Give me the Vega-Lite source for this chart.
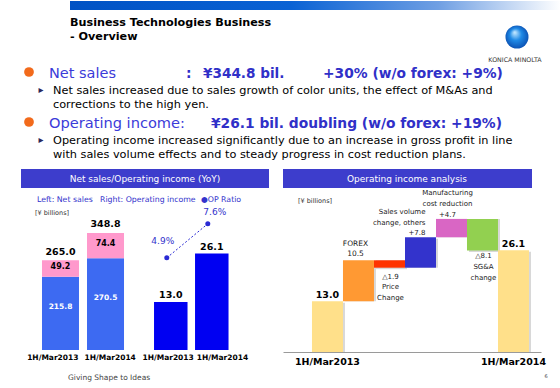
{
  "$schema": "https://vega.github.io/schema/vega-lite/v6.json",
  "padding": 0,
  "background": "white",
  "spacing": 0,
  "bounds": "flush",
  "config": {"view": {"stroke": null}, "font": "DejaVu Sans", "text": {"font": "DejaVu Sans"}},
  "datasets": {
    "netsales": [
      {"period": "1H/Mar2013", "segment": "Base", "value": 215.8},
      {"period": "1H/Mar2013", "segment": "Addition", "value": 49.2},
      {"period": "1H/Mar2014", "segment": "Base", "value": 270.5},
      {"period": "1H/Mar2014", "segment": "Addition", "value": 74.4}
    ],
    "nstotal": [
      {"period": "1H/Mar2013", "total": 265.0},
      {"period": "1H/Mar2014", "total": 348.8}
    ],
    "opincome": [
      {"period": "1H/Mar2013", "oi": 13.0, "ratio": 4.9},
      {"period": "1H/Mar2014", "oi": 26.1, "ratio": 7.6}
    ],
    "waterfall": [
      {"step": "1H/Mar2013", "start": 0, "end": 13.0, "label": "13.0"},
      {"step": "FOREX", "start": 13.0, "end": 23.5, "label": "FOREX\n10.5"},
      {"step": "Price change", "start": 23.5, "end": 21.6, "label": "△1.9\nPrice\nChange"},
      {"step": "Sales volume change, others", "start": 21.6, "end": 29.4, "label": "Sales  volume\nchange, others\n+7.8"},
      {"step": "Manufacturing cost reduction", "start": 29.4, "end": 34.1, "label": "Manufacturing\ncost reduction\n+4.7"},
      {"step": "SG&A change", "start": 34.1, "end": 26.0, "label": "△8.1\nSG&A\nchange"},
      {"step": "1H/Mar2014", "start": 0, "end": 26.1, "label": "26.1"}
    ]
  },
  "vconcat": [
    {
      "width": 560,
      "height": 166,
      "data": {"values": [{}]},
      "layer": [
        {"mark": {"type": "rect", "x": 69, "x2": 560, "y": 0, "y2": 9, "fill": {"gradient": "linear", "x1": 0, "y1": 0, "x2": 1, "y2": 0, "stops": [{"offset": 0, "color": "#0052c4"}, {"offset": 0.45, "color": "#0a62d4"}, {"offset": 0.75, "color": "#6f9fe3"}, {"offset": 1, "color": "#ffffff"}]}}, "encoding": {}},
        {"mark": {"type": "text", "text": "Business Technologies Business", "x": 69, "y": 25, "align": "left", "baseline": "alphabetic", "fontSize": 11.2, "fontWeight": "bold", "color": "#000000"}, "encoding": {}},
        {"mark": {"type": "text", "text": "- Overview", "x": 69, "y": 39, "align": "left", "baseline": "alphabetic", "fontSize": 11.2, "fontWeight": "bold", "color": "#000000"}, "encoding": {}},
        {"mark": {"type": "point", "shape": "circle", "filled": true, "opacity": 1, "x": 516, "y": 36, "size": 530, "fill": {"gradient": "radial", "x1": 0.4, "y1": 0.3, "r1": 0.02, "x2": 0.5, "y2": 0.5, "r2": 0.55, "stops": [{"offset": 0, "color": "#bfe6ff"}, {"offset": 0.45, "color": "#1f8ae6"}, {"offset": 1, "color": "#0a4cae"}]}}, "encoding": {}},
        {"mark": {"type": "rule", "x": 504, "x2": 528, "y": 37, "color": "#ffffff", "strokeWidth": 0.8}, "encoding": {}},
        {"mark": {"type": "rule", "x": 504, "x2": 528, "y": 40, "color": "#ffffff", "strokeWidth": 0.8}, "encoding": {}},
        {"mark": {"type": "rule", "x": 505, "x2": 527, "y": 43, "color": "#ffffff", "strokeWidth": 0.8}, "encoding": {}},
        {"mark": {"type": "rule", "x": 508, "x2": 524, "y": 46, "color": "#ffffff", "strokeWidth": 0.8}, "encoding": {}},
        {"mark": {"type": "text", "text": "KONICA MINOLTA", "x": 514, "y": 61, "align": "center", "baseline": "alphabetic", "fontSize": 6.3, "color": "#333333"}, "encoding": {}},

        {"mark": {"type": "point", "shape": "circle", "filled": true, "opacity": 1, "x": 28, "y": 71, "size": 95, "color": "#f26a1b"}, "encoding": {}},
        {"mark": {"type": "text", "text": "Net sales", "x": 48, "y": 77, "align": "left", "baseline": "alphabetic", "fontSize": 14.5, "color": "#3b3bd9"}, "encoding": {}},
        {"mark": {"type": "text", "text": ":", "x": 185, "y": 77, "align": "left", "baseline": "alphabetic", "fontSize": 13.8, "fontWeight": "bold", "color": "#3030c8"}, "encoding": {}},
        {"mark": {"type": "text", "text": "¥344.8 bil.", "x": 202, "y": 77, "align": "left", "baseline": "alphabetic", "fontSize": 13.6, "fontWeight": "bold", "color": "#3030c8"}, "encoding": {}},
        {"mark": {"type": "text", "text": "+30% (w/o forex:  +9%)", "x": 322, "y": 77, "align": "left", "baseline": "alphabetic", "fontSize": 13.8, "fontWeight": "bold", "color": "#3030c8"}, "encoding": {}},
        {"mark": {"type": "text", "text": "▸", "x": 40, "y": 92, "align": "center", "baseline": "alphabetic", "fontSize": 10, "color": "#2a2a5a"}, "encoding": {}},
        {"mark": {"type": "text", "text": "Net sales increased due to sales growth of color units, the effect of M&As and", "x": 52, "y": 93, "align": "left", "baseline": "alphabetic", "fontSize": 11.3, "color": "#000000"}, "encoding": {}},
        {"mark": {"type": "text", "text": "corrections to the high yen.", "x": 52, "y": 107, "align": "left", "baseline": "alphabetic", "fontSize": 11.3, "color": "#000000"}, "encoding": {}},
        {"mark": {"type": "point", "shape": "circle", "filled": true, "opacity": 1, "x": 28, "y": 121, "size": 95, "color": "#f26a1b"}, "encoding": {}},
        {"mark": {"type": "text", "text": "Operating income:", "x": 48, "y": 127, "align": "left", "baseline": "alphabetic", "fontSize": 14.6, "color": "#3b3bd9"}, "encoding": {}},
        {"mark": {"type": "text", "text": "¥26.1 bil.  doubling (w/o forex: +19%)", "x": 210, "y": 127, "align": "left", "baseline": "alphabetic", "fontSize": 13.8, "fontWeight": "bold", "color": "#3030c8"}, "encoding": {}},
        {"mark": {"type": "text", "text": "▸", "x": 40, "y": 142, "align": "center", "baseline": "alphabetic", "fontSize": 10, "color": "#2a2a5a"}, "encoding": {}},
        {"mark": {"type": "text", "text": "Operating income increased significantly due to an increase in gross profit in line", "x": 52, "y": 143, "align": "left", "baseline": "alphabetic", "fontSize": 11.3, "color": "#000000"}, "encoding": {}},
        {"mark": {"type": "text", "text": "with sales volume effects and to steady progress in cost reduction plans.", "x": 52, "y": 157, "align": "left", "baseline": "alphabetic", "fontSize": 11.3, "color": "#000000"}, "encoding": {}},

        {"mark": {"type": "rect", "x": 20, "x2": 268, "y": 168, "y2": 187, "color": "#3d3dcc"}, "encoding": {}},
        {"mark": {"type": "text", "text": "Net sales/Operating income (YoY)", "x": 144, "y": 178, "align": "center", "baseline": "middle", "fontSize": 9, "color": "#ffffff"}, "encoding": {}},
        {"mark": {"type": "text", "text": "Left: Net sales", "x": 36, "y": 201, "align": "left", "baseline": "alphabetic", "fontSize": 7.8, "color": "#3333cc"}, "encoding": {}},
        {"mark": {"type": "text", "text": "Right: Operating income", "x": 99, "y": 201, "align": "left", "baseline": "alphabetic", "fontSize": 7.8, "color": "#3333cc"}, "encoding": {}},
        {"mark": {"type": "text", "text": "●OP Ratio", "x": 200, "y": 201, "align": "left", "baseline": "alphabetic", "fontSize": 7.8, "color": "#3333cc"}, "encoding": {}},
        {"mark": {"type": "text", "text": "[¥ billions]", "x": 34, "y": 214, "align": "left", "baseline": "alphabetic", "fontSize": 6.5, "color": "#333333"}, "encoding": {}},
        {"mark": {"type": "rect", "x": 282, "x2": 531, "y": 168, "y2": 187, "color": "#3d3dcc"}, "encoding": {}},
        {"mark": {"type": "text", "text": "Operating income analysis", "x": 406, "y": 178, "align": "center", "baseline": "middle", "fontSize": 9, "color": "#ffffff"}, "encoding": {}},
        {"mark": {"type": "text", "text": "[¥ billions]", "x": 297, "y": 202, "align": "left", "baseline": "alphabetic", "fontSize": 6.5, "color": "#333333"}, "encoding": {}},

        {"mark": {"type": "rule", "x": 23, "x2": 280, "y": 370, "color": "#e2e2e2", "strokeWidth": 1}, "encoding": {}},
        {"mark": {"type": "text", "text": "Giving Shape to Ideas", "x": 67, "y": 379, "align": "left", "baseline": "alphabetic", "fontSize": 7.5, "color": "#444444"}, "encoding": {}},
        {"mark": {"type": "text", "text": "6", "x": 545, "y": 377, "align": "center", "baseline": "alphabetic", "fontSize": 5, "color": "#444444"}, "encoding": {}}
      ]
    },
    {
      "hconcat": [
        {
          "width": 140,
          "height": 183,
          "data": {"name": "netsales"},
          "encoding": {
            "x": {"field": "period", "type": "nominal", "scale": {"paddingInner": 0.178, "paddingOuter": 0.644, "align": 0.707},
                  "axis": {"title": null, "labelAngle": 0, "ticks": false, "domain": false, "labelFontWeight": "bold", "labelFontSize": 7.5, "labelColor": "#000000", "labelPadding": 3,
                           "labelAlign": {"condition": {"test": "datum.value == '1H/Mar2013'", "value": "right"}, "value": "left"},
                           "labelOffset": {"condition": {"test": "datum.value == '1H/Mar2013'", "value": 18}, "value": -21}}}
          },
          "layer": [
            {
              "transform": [
                {"stack": "value", "groupby": ["period"], "sort": [{"field": "segment", "order": "descending"}], "as": ["v0", "v1"]},
                {"calculate": "(datum.v0 + datum.v1) / 2", "as": "mid"}
              ],
              "layer": [
                {
                  "mark": {"type": "bar"},
                  "encoding": {
                    "y": {"field": "v1", "type": "quantitative", "scale": {"domain": [0, 540], "nice": false}, "axis": null},
                    "y2": {"field": "v0"},
                    "color": {"field": "segment", "type": "nominal", "scale": {"domain": ["Base", "Addition"], "range": ["#3d6af2", "#ff99cc"]}, "legend": null}
                  }
                },
                {
                  "transform": [{"filter": "datum.segment == 'Base'"}],
                  "mark": {"type": "text", "fontWeight": "bold", "fontSize": 7.5, "dy": -6, "color": "#ffffff"},
                  "encoding": {
                    "y": {"field": "mid", "type": "quantitative", "scale": {"domain": [0, 540], "nice": false}},
                    "text": {"field": "value", "type": "quantitative", "format": ".1f"}
                  }
                },
                {
                  "transform": [{"filter": "datum.segment == 'Addition'"}],
                  "mark": {"type": "text", "fontWeight": "bold", "fontSize": 8, "dy": -2, "color": "#000000"},
                  "encoding": {
                    "y": {"field": "mid", "type": "quantitative", "scale": {"domain": [0, 540], "nice": false}},
                    "text": {"field": "value", "type": "quantitative", "format": ".1f"}
                  }
                }
              ]
            },
            {
              "data": {"name": "nstotal"},
              "mark": {"type": "text", "fontWeight": "bold", "fontSize": 9.5, "baseline": "bottom", "dy": -3, "color": "#000000"},
              "encoding": {
                "y": {"field": "total", "type": "quantitative", "scale": {"domain": [0, 540], "nice": false}},
                "text": {"field": "total", "type": "quantitative", "format": ".1f"}
              }
            }
          ]
        },
        {
          "width": 142,
          "height": 183,
          "data": {"name": "opincome"},
          "transform": [{"calculate": "format(datum.ratio, '.1f') + '%'", "as": "ratioLabel"}],
          "encoding": {
            "x": {"field": "period", "type": "nominal", "scale": {"paddingInner": 0.183, "paddingOuter": 0.823, "align": 0.193},
                  "axis": {"title": null, "labelAngle": 0, "ticks": false, "domain": false, "labelFontWeight": "bold", "labelFontSize": 7.5, "labelColor": "#000000", "labelPadding": 3,
                           "labelAlign": {"condition": {"test": "datum.value == '1H/Mar2013'", "value": "right"}, "value": "left"},
                           "labelOffset": {"condition": {"test": "datum.value == '1H/Mar2013'", "value": 23}, "value": -15}}}
          },
          "layer": [
            {
              "mark": {"type": "bar", "color": "#0000f2"},
              "encoding": {"y": {"field": "oi", "type": "quantitative", "scale": {"domain": [0, 49.5], "nice": false}, "axis": null}}
            },
            {
              "mark": {"type": "text", "fontWeight": "bold", "fontSize": 9.5, "baseline": "bottom", "dy": -2, "color": "#000000"},
              "encoding": {
                "y": {"field": "oi", "type": "quantitative", "scale": {"domain": [0, 49.5], "nice": false}, "axis": null},
                "text": {"field": "oi", "type": "quantitative", "format": ".1f"}
              }
            },
            {
              "mark": {"type": "line", "strokeDash": [2, 2], "strokeWidth": 1, "color": "#2a2ad4", "xOffset": -4},
              "encoding": {"y": {"field": "ratio", "type": "quantitative", "scale": {"domain": [-2.4, 12.1], "zero": false, "nice": false}, "axis": null}}
            },
            {
              "mark": {"type": "point", "filled": true, "opacity": 1, "size": 25, "color": "#2a2ad4", "xOffset": -4},
              "encoding": {"y": {"field": "ratio", "type": "quantitative", "scale": {"domain": [-2.4, 12.1], "zero": false, "nice": false}, "axis": null}}
            },
            {
              "transform": [{"filter": "datum.period == '1H/Mar2013'"}],
              "mark": {"type": "text", "fontSize": 9, "baseline": "bottom", "dy": -12, "dx": -8, "color": "#3333cc"},
              "encoding": {
                "y": {"field": "ratio", "type": "quantitative", "scale": {"domain": [-2.4, 12.1], "zero": false, "nice": false}, "axis": null},
                "text": {"field": "ratioLabel", "type": "nominal"}
              }
            },
            {
              "transform": [{"filter": "datum.period == '1H/Mar2014'"}],
              "mark": {"type": "text", "fontSize": 9, "baseline": "bottom", "dy": -7, "dx": 3, "color": "#3333cc"},
              "encoding": {
                "y": {"field": "ratio", "type": "quantitative", "scale": {"domain": [-2.4, 12.1], "zero": false, "nice": false}, "axis": null},
                "text": {"field": "ratioLabel", "type": "nominal"}
              }
            }
          ],
          "resolve": {"scale": {"y": "independent"}}
        },
        {
          "width": 258,
          "height": 185,
          "data": {"name": "waterfall"},
          "encoding": {
            "x": {"field": "step", "type": "nominal", "sort": null,
                  "scale": {"domain": ["1H/Mar2013", "FOREX", "Price change", "Sales volume change, others", "Manufacturing cost reduction", "SG&A change", "1H/Mar2014"], "paddingInner": 0, "paddingOuter": 0.661, "align": 0.707},
                  "axis": {"title": null, "labelAngle": 0, "ticks": false, "domain": true, "domainColor": "#9a9a9a", "labelFontWeight": "bold", "labelFontSize": 9.5, "labelColor": "#000000", "labelPadding": 4,
                           "labelExpr": "indexof(['1H/Mar2013', '1H/Mar2014'], datum.value) >= 0 ? datum.label : ''"}}
          },
          "layer": [
            {
              "mark": {"type": "bar", "color": "#b8b8b8", "opacity": 0.55, "xOffset": 2, "yOffset": 1.5},
              "encoding": {
                "y": {"field": "end", "type": "quantitative", "scale": {"domain": [0, 47.4], "nice": false}, "axis": null},
                "y2": {"field": "start"}
              }
            },
            {
              "mark": {"type": "bar"},
              "encoding": {
                "y": {"field": "end", "type": "quantitative", "scale": {"domain": [0, 47.4], "nice": false}, "axis": null},
                "y2": {"field": "start"},
                "color": {"field": "step", "type": "nominal", "scale": {"domain": ["1H/Mar2013", "FOREX", "Price change", "Sales volume change, others", "Manufacturing cost reduction", "SG&A change", "1H/Mar2014"], "range": ["#ffe08a", "#ff9933", "#ff3300", "#3333cc", "#d966c4", "#92d050", "#ffe08a"]}, "legend": null}
              }
            },
            {
              "transform": [{"filter": "datum.step == '1H/Mar2013' || datum.step == '1H/Mar2014'"}],
              "mark": {"type": "text", "fontWeight": "bold", "fontSize": 9.5, "baseline": "bottom", "dy": -1, "color": "#000000"},
              "encoding": {"y": {"field": "end", "type": "quantitative"}, "text": {"field": "label", "type": "nominal"}}
            },
            {
              "transform": [{"filter": "datum.step == 'FOREX'"}],
              "mark": {"type": "text", "fontSize": 7.5, "lineBreak": "\n", "lineHeight": 10, "baseline": "bottom", "dy": -12, "dx": -3, "color": "#222222"},
              "encoding": {"y": {"field": "end", "type": "quantitative"}, "text": {"field": "label", "type": "nominal"}}
            },
            {
              "transform": [{"filter": "datum.step == 'Price change'"}],
              "mark": {"type": "text", "fontSize": 7, "lineBreak": "\n", "lineHeight": 10.5, "baseline": "top", "dy": 5, "dx": 1, "color": "#222222"},
              "encoding": {"y": {"field": "end", "type": "quantitative"}, "text": {"field": "label", "type": "nominal"}}
            },
            {
              "transform": [{"filter": "datum.step == 'Sales volume change, others'"}],
              "mark": {"type": "text", "fontSize": 7, "lineBreak": "\n", "lineHeight": 10.5, "align": "right", "baseline": "bottom", "dy": -22, "dx": 5, "color": "#222222"},
              "encoding": {"y": {"field": "end", "type": "quantitative"}, "text": {"field": "label", "type": "nominal"}}
            },
            {
              "transform": [{"filter": "datum.step == 'Manufacturing cost reduction'"}],
              "mark": {"type": "text", "fontSize": 7, "lineBreak": "\n", "lineHeight": 11, "baseline": "bottom", "dy": -23, "dx": -4, "color": "#222222"},
              "encoding": {"y": {"field": "end", "type": "quantitative"}, "text": {"field": "label", "type": "nominal"}}
            },
            {
              "transform": [{"filter": "datum.step == 'SG&A change'"}],
              "mark": {"type": "text", "fontSize": 7, "lineBreak": "\n", "lineHeight": 11, "baseline": "top", "dy": 1.5, "dx": 1, "color": "#222222"},
              "encoding": {"y": {"field": "end", "type": "quantitative"}, "text": {"field": "label", "type": "nominal"}}
            }
          ]
        }
      ],
      "spacing": 0,
      "bounds": "flush",
      "resolve": {"scale": {"color": "independent"}}
    }
  ]
}
